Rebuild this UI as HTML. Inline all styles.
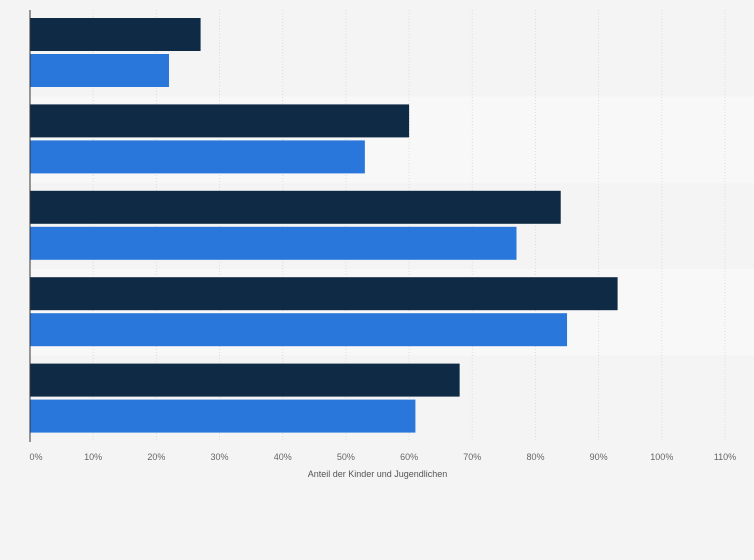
<!DOCTYPE html>
<html><head><meta charset="utf-8"><style>
html,body{margin:0;padding:0;background:#f4f4f4;}
svg{display:block;font-family:"Liberation Sans",sans-serif;}
</style></head><body>
<svg id="chart" width="754" height="560"></svg>
<script>
const categories = ["Gruppe 1","Gruppe 2","Gruppe 3","Gruppe 4","Gruppe 5"];
const seriesDark = [27, 60, 84, 93, 68];
const seriesBlue = [22, 53, 77, 85, 61];
const tickValues = [0,10,20,30,40,50,60,70,80,90,100,110];
const tickLabels = ["0%","10%","20%","30%","40%","50%","60%","70%","80%","90%","100%","110%"];

const NS="http://www.w3.org/2000/svg";
const svg=document.getElementById('chart');
const x0=30, x1=725, yTop=10, yBot=442, xMax=110;
const xs=v=>x0+(v/xMax)*(x1-x0);
const band=(yBot-yTop)/categories.length;
function mk(t,a){const e=document.createElementNS(NS,t);for(const k in a)e.setAttribute(k,a[k]);svg.appendChild(e);return e;}

categories.forEach((c,i)=>{
  const r=mk('rect',{x:x0,y:yTop+i*band,width:754-x0,height:band,fill:i%2?'#f8f8f8':'#f4f4f4'});
  
  
});
tickValues.forEach((v,i)=>{
  const g=mk('line',{x1:xs(v),x2:xs(v),y1:yTop,y2:yBot,stroke:'#dcdcdc','stroke-dasharray':'1,2'});
  
  
  const t=mk('text',{x:xs(v)+(v===0?6:0),y:460,'text-anchor':'middle','font-size':9,fill:'#666'});
  t.textContent=tickLabels[i];
  
  
});
categories.forEach((c,i)=>{
  const y=yTop+i*band;
  const b1=mk('rect',{x:x0,y:y+8,width:xs(seriesDark[i])-x0,height:33,fill:'#0f2a44'});
  
  
  const b2=mk('rect',{x:x0,y:y+44,width:xs(seriesBlue[i])-x0,height:33,fill:'#2a77db'});
  
  
});
const ax=mk('line',{x1:x0,x2:x0,y1:yTop,y2:yBot,stroke:'#333','stroke-width':1});


const tt=mk('text',{x:(x0+x1)/2,y:477,'text-anchor':'middle','font-size':9,fill:'#555'});
tt.textContent='Anteil der Kinder und Jugendlichen';


</script>
</body></html>
